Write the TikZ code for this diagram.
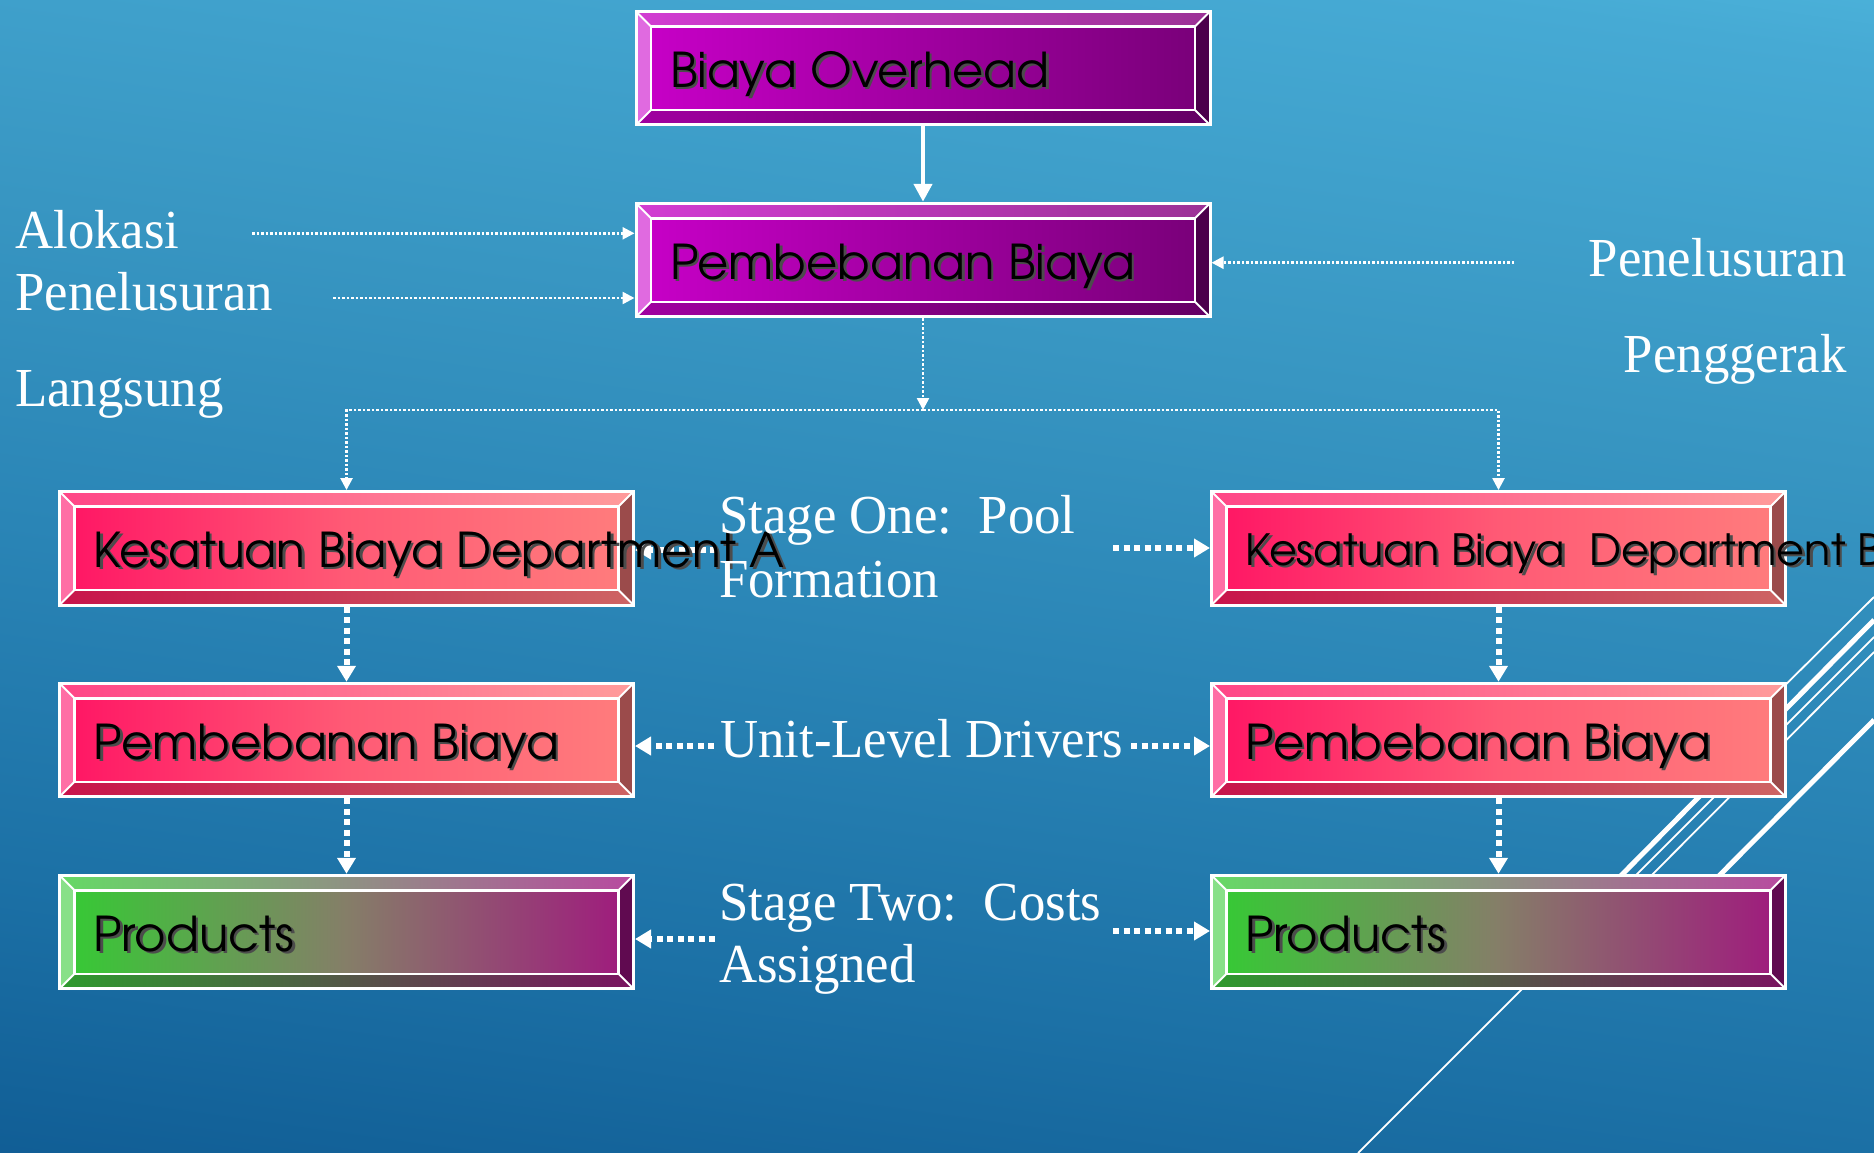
\documentclass[tikz,border=0pt]{standalone}
\usepackage{fontspec}
\usetikzlibrary{arrows.meta,calc}
\newfontfamily\gothic{TeX Gyre Adventor}
\newfontfamily\lblfont[FakeStretch=0.96]{Liberation Serif}
% background
\definecolor{bgA}{HTML}{5CC9EA}
\definecolor{bgB}{HTML}{46AAD4}
\definecolor{bgC}{HTML}{3896C2}
\definecolor{bgD}{HTML}{2A85B6}
\definecolor{bgE}{HTML}{1C71A6}
\definecolor{bgF}{HTML}{0F5B93}
% purple
\definecolor{pTopL}{HTML}{D23CD2}\definecolor{pTopR}{HTML}{9C3296}
\definecolor{pLeft}{HTML}{E06AE0}\definecolor{pRight}{HTML}{4B004B}
\definecolor{pBotL}{HTML}{A000A0}\definecolor{pBotR}{HTML}{640064}
\definecolor{pFaceL}{HTML}{C800C8}\definecolor{pFaceM}{HTML}{A000A0}\definecolor{pFaceR}{HTML}{780078}
% pink
\definecolor{kTopL}{HTML}{FF4687}\definecolor{kTopR}{HTML}{FF9B9B}
\definecolor{kLeft}{HTML}{FF6EA5}\definecolor{kRight}{HTML}{9B4B4B}
\definecolor{kBotL}{HTML}{C8144B}\definecolor{kBotR}{HTML}{CD6464}
\definecolor{kFaceL}{HTML}{FF1464}\definecolor{kFaceM}{HTML}{FF5A75}\definecolor{kFaceR}{HTML}{FF7D7D}
% green / purple
\definecolor{gTopL}{HTML}{66D966}\definecolor{gTopR}{HTML}{B84AA0}
\definecolor{gLeft}{HTML}{88E088}\definecolor{gRight}{HTML}{600A50}
\definecolor{gBotL}{HTML}{2E9A2E}\definecolor{gBotR}{HTML}{7A1460}
\definecolor{gFaceL}{HTML}{33CC33}\definecolor{gFaceM}{HTML}{857E68}\definecolor{gFaceR}{HTML}{A0187E}
\pgfdeclarelayer{bg}
\pgfdeclarelayer{conn}
\pgfsetlayers{bg,conn,main}
\pgfdeclareverticalshading{bgshade}{100bp}{color(0bp)=(bgF); color(20bp)=(bgF); color(33bp)=(bgE); color(47bp)=(bgD); color(60bp)=(bgC); color(76bp)=(bgB); color(88bp)=(bgA); color(100bp)=(bgA)}
\newcommand\shtext[1]{\makebox[506pt][l]{\rlap{\hspace{2.5pt}\raisebox{-2.5pt}{\textcolor{black!70}{#1}}}#1}}
\tikzset{
  bevelbox/.style n args={9}{
    rectangle, minimum width=574pt, minimum height=113.5pt, draw=white, line width=3pt,
    path picture={
      \def\pb{path picture bounding box}
      \fill[left color=#7, right color=#9, middle color=#8] (\pb.south west) rectangle (\pb.north east);
      \fill[left color=#1, right color=#2] (\pb.north west) -- (\pb.north east) -- ([shift={(-15pt,-15pt)}]\pb.north east) -- ([shift={(15pt,-15pt)}]\pb.north west) -- cycle;
      \fill[left color=#5, right color=#6] (\pb.south west) -- (\pb.south east) -- ([shift={(-15pt,15pt)}]\pb.south east) -- ([shift={(15pt,15pt)}]\pb.south west) -- cycle;
      \fill[#3] (\pb.north west) -- ([shift={(15pt,-15pt)}]\pb.north west) -- ([shift={(15pt,15pt)}]\pb.south west) -- (\pb.south west) -- cycle;
      \fill[#4] (\pb.north east) -- ([shift={(-15pt,-15pt)}]\pb.north east) -- ([shift={(-15pt,15pt)}]\pb.south east) -- (\pb.south east) -- cycle;
      \draw[white, line width=2.5pt] ([shift={(15pt,-15pt)}]\pb.north west) rectangle ([shift={(-15pt,15pt)}]\pb.south east);
      \draw[white, line width=2pt] (\pb.north west) -- ([shift={(15pt,-15pt)}]\pb.north west)
        (\pb.north east) -- ([shift={(-15pt,-15pt)}]\pb.north east)
        (\pb.south west) -- ([shift={(15pt,15pt)}]\pb.south west)
        (\pb.south east) -- ([shift={(-15pt,15pt)}]\pb.south east);
    }
  },
  purplebox/.style={bevelbox={pTopL}{pTopR}{pLeft}{pRight}{pBotL}{pBotR}{pFaceL}{pFaceM}{pFaceR}},
  pinkbox/.style={bevelbox={kTopL}{kTopR}{kLeft}{kRight}{kBotL}{kBotR}{kFaceL}{kFaceM}{kFaceR}},
  greenbox/.style={bevelbox={gTopL}{gTopR}{gLeft}{gRight}{gBotL}{gBotR}{gFaceL}{gFaceM}{gFaceR}},
  boxtext/.style={font=\gothic\fontsize{48}{50}\selectfont, text=black, text height=38pt, text depth=0pt, inner xsep=34pt, inner ysep=0pt},
  smalltext/.style={font=\gothic\fontsize{43}{45}\selectfont, text=black, text height=34pt, text depth=0pt, inner xsep=34pt, inner ysep=0pt},
  lbl/.style={font=\lblfont\fontsize{55}{60}\selectfont, text=white, inner sep=0pt},
  thinarrow/.style={white, line width=2.5pt, dash pattern=on 2.5pt off 2pt, -{Triangle[length=12pt,width=12pt]}},
  bigarrow/.style={white, line width=6pt, dash pattern=on 6pt off 4.5pt, -{Triangle[length=16pt,width=18pt]}},
  solidarrow/.style={white, line width=4.5pt, -{Triangle[length=18pt,width=18pt]}},
  deco/.style={white, line width=#1}
}
\begin{document}
\begin{tikzpicture}[x=1pt,y=-1pt]
\useasboundingbox (0,0) rectangle (1874,1153);
\begin{pgfonlayer}{bg}
  \shade[shading=bgshade, shading angle=-8] (0,0) rectangle (1874,1153);
  \draw[deco=1.8pt] (1358,1153) -- (1874,637);
  \draw[deco=5pt] (1580,917) -- (1874,620);
  \draw[deco=1.8pt] (1600,927) -- (1874,652);
  \draw[deco=5pt] (1680,915) -- (1874,720);
  \draw[deco=1.8pt] (1740,730) -- (1874,597);
\end{pgfonlayer}

% boxes
\node[purplebox, boxtext] (ov) at (923,68.25) {\shtext{Biaya Overhead}};
\node[purplebox, boxtext] (pb) at (923,260) {\shtext{Pembebanan Biaya}};
\node[pinkbox, boxtext] (kA) at (346.5,548.3) {\shtext{\scalebox{0.98}[1]{Kesatuan Biaya Department A}}};
\node[pinkbox, boxtext] (pA) at (346.5,740) {\shtext{Pembebanan Biaya}};
\node[greenbox, boxtext] (prA) at (346.5,932) {\shtext{Products}};
\node[pinkbox, smalltext] (kB) at (1498.5,548.3) {\shtext{Kesatuan Biaya\ \ Department B}};
\node[pinkbox, boxtext] (pB) at (1498.5,740) {\shtext{Pembebanan Biaya}};
\node[greenbox, boxtext] (prB) at (1498.5,932) {\shtext{Products}};

% labels
\node[lbl, anchor=base west] (alok) at (15,248.3) {Alokasi};
\node[lbl, anchor=base west] (pen1) at (15,310.7) {Penelusuran};
\node[lbl, anchor=base west] (lang) at (15,406.7) {Langsung};
\node[lbl, anchor=base east] (pen2) at (1847,276.7) {Penelusuran};
\node[lbl, anchor=base east] (peng) at (1847,372.7) {Penggerak};
\node[lbl, anchor=base west] (s1a) at (719,533) {Stage One:\ \ Pool};
\node[lbl, anchor=base west] (s1b) at (719,597) {Formation};
\node[lbl, anchor=base west] (uld) at (720,757) {Unit-Level Drivers};
\node[lbl, anchor=base west] (s2a) at (719,920) {Stage Two:\ \ Costs};
\node[lbl, anchor=base west] (s2b) at (719,982) {Assigned};

\begin{pgfonlayer}{conn}
  \draw[solidarrow] (ov.south) -- (pb.north);
  \coordinate (a1) at (252,233.3);
  \coordinate (a2) at (333,298);
  \coordinate (a3) at (1514,262.7);
  \draw[thinarrow] (a1) -- (a1 -| pb.west);
  \draw[thinarrow] (a2) -- (a2 -| pb.west);
  \draw[thinarrow] (a3) -- (a3 -| pb.east);
  \coordinate (jn) at (923,410);
  \draw[thinarrow] (pb.south) -- (jn);
  \draw[thinarrow] (jn) -| (kA.north);
  \draw[thinarrow] (jn) -| (kB.north);
  \draw[bigarrow] (kA.south) -- (pA.north);
  \draw[bigarrow] (pA.south) -- (prA.north);
  \draw[bigarrow] (kB.south) -- (pB.north);
  \draw[bigarrow] (pB.south) -- (prB.north);
  \coordinate (s1r) at (1113,548);
  \coordinate (s1l) at (716,550);
  \draw[bigarrow] (s1r) -- (s1r -| kB.west);
  \draw[bigarrow] (s1l) -- (s1l -| kA.east);
  \coordinate (u1l) at (714,746);
  \coordinate (u1r) at (1131,746);
  \draw[bigarrow] (u1l) -- (u1l -| pA.east);
  \draw[bigarrow] (u1r) -- (u1r -| pB.west);
  \coordinate (s2l) at (715,939);
  \coordinate (s2r) at (1113,931);
  \draw[bigarrow] (s2l) -- (s2l -| prA.east);
  \draw[bigarrow] (s2r) -- (s2r -| prB.west);
\end{pgfonlayer}
\end{tikzpicture}
\end{document}
